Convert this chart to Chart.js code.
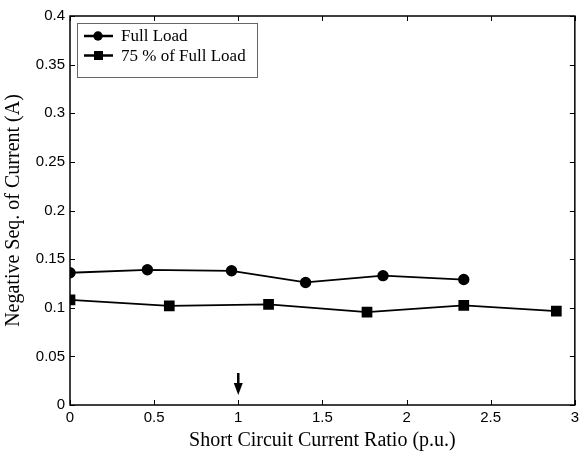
<!DOCTYPE html>
<html>
<head>
<meta charset="utf-8">
<script src="https://cdn.jsdelivr.net/npm/chart.js@4.4.1/dist/chart.umd.min.js"></script>
<style>
  html, body { margin: 0; padding: 0; background: #fff; }
  #wrap { width: 583px; height: 456px; }
</style>
</head>
<body>
<div id="wrap"><canvas id="myChart" width="583" height="456"></canvas></div>
<script>
// data
const seriesNames = ["Full Load", "75 % of Full Load"];
const fullLoadX = [0, 0.46, 0.96, 1.40, 1.86, 2.34];
const fullLoadY = [0.136, 0.139, 0.138, 0.126, 0.133, 0.129];
const partLoadX = [0, 0.59, 1.18, 1.765, 2.34, 2.89];
const partLoadY = [0.108, 0.102, 0.1035, 0.0955, 0.1025, 0.0965];
const xTicks = [0, 0.5, 1, 1.5, 2, 2.5, 3];
const yTicks = [0, 0.05, 0.1, 0.15, 0.2, 0.25, 0.3, 0.35, 0.4];
const arrowX = 1;

const toPoints = (xs, ys) => xs.map((x, i) => ({x: x, y: ys[i]}));

// frame, inward ticks, arrow and legend, MATLAB style
const framePlugin = {
  id: 'frame',
  afterDraw(chart) {
    const ctx = chart.ctx;
    const a = chart.chartArea;
    const xs = chart.scales.x, ys = chart.scales.y;
    ctx.save();
    ctx.strokeStyle = '#000';
    ctx.lineWidth = 1.5;
    ctx.strokeRect(a.left, a.top, a.right - a.left, a.bottom - a.top);
    ctx.lineWidth = 1;
    ctx.beginPath();
    xTicks.forEach(t => {
      const px = Math.round(xs.getPixelForValue(t)) + 0.5;
      ctx.moveTo(px, a.bottom); ctx.lineTo(px, a.bottom - 5);
      ctx.moveTo(px, a.top); ctx.lineTo(px, a.top + 5);
    });
    yTicks.forEach(t => {
      const py = Math.round(ys.getPixelForValue(t)) + 0.5;
      ctx.moveTo(a.left, py); ctx.lineTo(a.left + 5, py);
      ctx.moveTo(a.right, py); ctx.lineTo(a.right - 5, py);
    });
    ctx.stroke();

    // arrow at ratio 1
    const ax = xs.getPixelForValue(arrowX);
    ctx.lineWidth = 2.5;
    ctx.beginPath();
    ctx.moveTo(ax, a.bottom - 32); ctx.lineTo(ax, a.bottom - 20);
    ctx.stroke();
    ctx.fillStyle = '#000';
    ctx.beginPath();
    ctx.moveTo(ax - 4.5, a.bottom - 22);
    ctx.lineTo(ax + 4.5, a.bottom - 22);
    ctx.lineTo(ax, a.bottom - 10);
    ctx.closePath();
    ctx.fill();

    // legend
    const lx = a.left + 7, ly = a.top + 7;
    ctx.fillStyle = '#fff';
    ctx.fillRect(lx, ly, 180, 54);
    ctx.strokeStyle = '#666';
    ctx.lineWidth = 1;
    ctx.strokeRect(lx + 0.5, ly + 0.5, 180, 54);
    ctx.font = '17px "Liberation Serif", "Times New Roman", serif';
    ctx.textBaseline = 'middle';
    chart.data.datasets.forEach((ds, i) => {
      const y = ly + 13 + i * 19.5;
      ctx.strokeStyle = '#000';
      ctx.lineWidth = 2.5;
      ctx.beginPath();
      ctx.moveTo(lx + 7, y); ctx.lineTo(lx + 36, y);
      ctx.stroke();
      ctx.fillStyle = '#000';
      if (ds.pointStyle === 'rect') {
        ctx.fillRect(lx + 17, y - 4.5, 9, 9);
      } else {
        ctx.beginPath();
        ctx.arc(lx + 21, y, 4.7, 0, Math.PI * 2);
        ctx.fill();
      }
      ctx.fillText(ds.label, lx + 44, y + 1);
    });
    ctx.restore();
  }
};

new Chart("myChart", {
  type: "scatter",
  data: {
    datasets: [{
      label: seriesNames[0],
      data: toPoints(fullLoadX, fullLoadY),
      showLine: true,
      borderColor: '#000',
      backgroundColor: '#000',
      borderWidth: 1.8,
      pointStyle: 'circle',
      pointRadius: 4.8
    }, {
      label: seriesNames[1],
      data: toPoints(partLoadX, partLoadY),
      showLine: true,
      borderColor: '#000',
      backgroundColor: '#000',
      borderWidth: 1.8,
      pointStyle: 'rect',
      pointRadius: 6.3
    }]
  },
  options: {
    responsive: false,
    animation: false,
    layout: {padding: {top: 16, right: 6, left: 0, bottom: 0}},
    plugins: {legend: {display: false}, tooltip: {enabled: false}},
    scales: {
      x: {
        type: 'linear', min: 0, max: 3,
        afterFit(scale) { scale.height = 51; },
        afterBuildTicks(scale) { scale.ticks = xTicks.map(v => ({value: v})); },
        grid: {display: false, drawTicks: false},
        border: {display: false},
        ticks: {
          color: '#000', padding: 4,
          font: {family: '"Liberation Sans", Arial, sans-serif', size: 15},
          callback: v => String(v)
        },
        title: {
          display: true, text: 'Short Circuit Current Ratio (p.u.)', color: '#000',
          font: {family: '"Liberation Serif", "Times New Roman", serif', size: 20},
          padding: {top: 0, bottom: 3}
        }
      },
      y: {
        type: 'linear', min: 0, max: 0.4,
        afterFit(scale) { scale.width = 70; },
        afterBuildTicks(scale) { scale.ticks = yTicks.map(v => ({value: v})); },
        grid: {display: false, drawTicks: false},
        border: {display: false},
        ticks: {
          color: '#000', padding: 5,
          font: {family: '"Liberation Sans", Arial, sans-serif', size: 15},
          callback: v => String(v)
        },
        title: {
          display: true, text: 'Negative Seq. of Current (A)', color: '#000',
          font: {family: '"Liberation Serif", "Times New Roman", serif', size: 20},
          padding: {top: 2, bottom: 2}
        }
      }
    }
  },
  plugins: [framePlugin]
});
</script>
</body>
</html>
